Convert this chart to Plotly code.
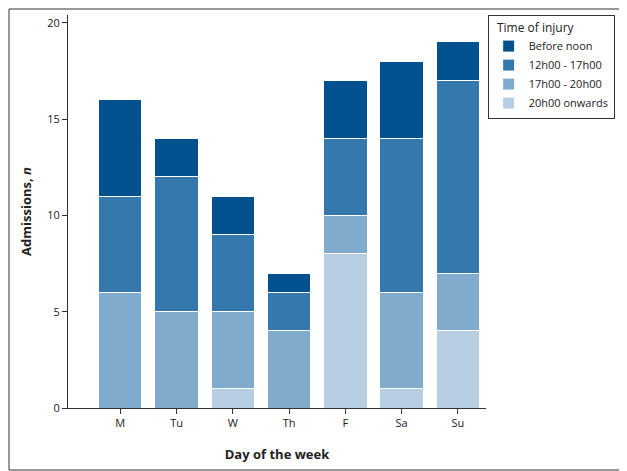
import plotly.graph_objects as go

days = ["M", "Tu", "W", "Th", "F", "Sa", "Su"]
late = [0, 0, 1, 0, 8, 1, 4]
evening = [6, 5, 4, 4, 2, 5, 3]
afternoon = [5, 7, 4, 2, 4, 8, 10]
morning = [5, 2, 2, 1, 3, 4, 2]

series = [
    ("Before noon", morning, "#03508f"),
    ("12h00 - 17h00", afternoon, "#3478ad"),
    ("17h00 - 20h00", evening, "#80abcd"),
    ("20h00 onwards", late, "#b6cde2"),
]

fig = go.Figure()
for name, vals, col in reversed(series):
    fig.add_trace(go.Bar(x=days, y=vals, name=name, marker_color=col,
                         marker_line=dict(color="white", width=1), width=0.77))

# page body has an 8px margin, so the figure is a bit smaller than the window
W, H = 619, 463
L, R, T, B = 60, 141, 7, 63
pw, ph = W - L - R, H - T - B
fig.update_layout(
    width=W, height=H, barmode="stack", plot_bgcolor="white", paper_bgcolor="white",
    margin=dict(l=L, r=R, t=T, b=B, autoexpand=False),
    font=dict(family="Open Sans, Lato, sans-serif", size=11, color="#222"),
    legend=dict(title=dict(text="  Time of injury", side="top", font=dict(size=12)),
                traceorder="reversed", x=1.004, y=1.0, xanchor="left", yanchor="top",
                bordercolor="#333", borderwidth=1, font=dict(size=11),
                itemwidth=30, tracegroupgap=0),
    xaxis=dict(range=[-0.93, 6.5], showline=True, linecolor="#333", ticks="outside",
               ticklen=5, tickcolor="#333", automargin=False,
               title=dict(text="<b>Day of the week</b>", standoff=20)),
    yaxis=dict(range=[0, 20.4], tickvals=[0, 5, 10, 15, 20], showline=True, linecolor="#333",
               ticks="outside", ticklen=5, tickcolor="#333", showgrid=False, zeroline=False,
               automargin=False,
               title=dict(text="<b>Admissions, <i>n</i></b>", standoff=12)),
    shapes=[dict(type="rect", xref="paper", yref="paper",
                 x0=-(L - 1) / pw, x1=(W - 1 - L) / pw,
                 y0=-(B - 1) / ph, y1=(H - B - 1) / ph,
                 line=dict(color="#333", width=1))],
)
fig.write_html("out.html")
